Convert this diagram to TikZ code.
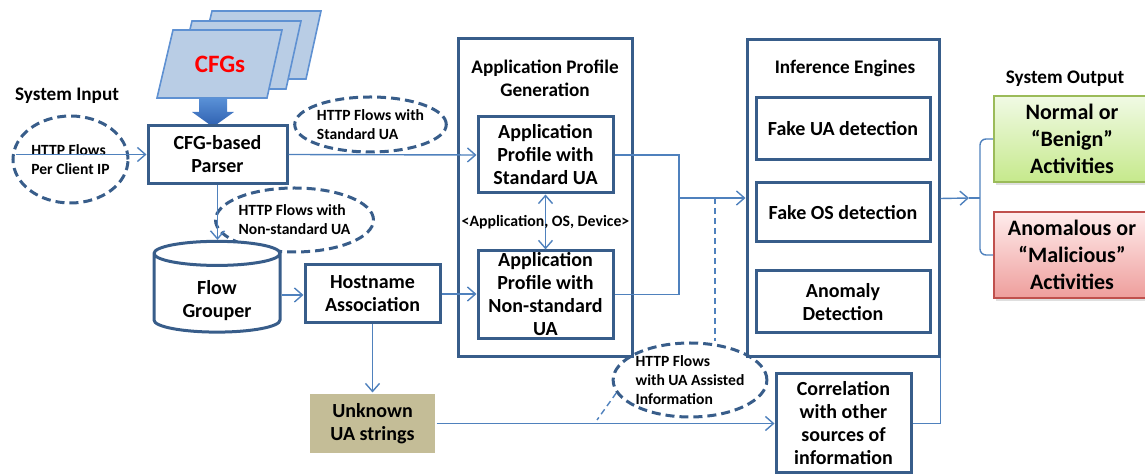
\documentclass[tikz,border=0pt]{standalone}
\usepackage{fontspec}
\setmainfont{Carlito}
\usetikzlibrary{arrows.meta,positioning,shapes.geometric,calc,shadows}
\definecolor{edgeBlue}{RGB}{56,93,138}
\definecolor{wireBlue}{RGB}{79,129,189}
\definecolor{sheetBlue}{RGB}{185,205,229}
\definecolor{sheetEdge}{RGB}{95,145,210}
\definecolor{arrowTop}{RGB}{90,145,215}
\definecolor{arrowBot}{RGB}{45,95,175}
\definecolor{uaTan}{RGB}{196,189,151}
\definecolor{okEdge}{RGB}{155,187,89}
\definecolor{okTop}{RGB}{240,250,228}
\definecolor{okBot}{RGB}{198,233,140}
\definecolor{badEdge}{RGB}{192,80,77}
\definecolor{badTop}{RGB}{255,236,236}
\definecolor{badBot}{RGB}{238,158,156}
\tikzset{
  procbox/.style={
    rectangle, draw=edgeBlue, line width=1.5pt, fill=white, align=center,
    inner sep=1pt, font=\fontsize{10}{11.5}\selectfont\bfseries},
  groupbox/.style={rectangle, draw=edgeBlue, line width=1.5pt},
  grouptitle/.style={align=center, font=\fontsize{9.6}{11.5}\selectfont\bfseries},
  storecyl/.style={
    cylinder, shape border rotate=90, aspect=0.33, draw=edgeBlue,
    line width=1.5pt, fill=white, align=center, inner sep=1pt,
    font=\fontsize{10}{11.5}\selectfont\bfseries},
  uabox/.style={procbox, draw=none, fill=uaTan},
  flowoval/.style={
    ellipse, draw=edgeBlue, line width=1.5pt, dash pattern=on 4.5pt off 2.5pt,
    align=left, inner sep=0pt, font=\fontsize{7.8}{9.5}\selectfont\bfseries},
  outbox/.style={
    rectangle, line width=0.8pt, align=center,
    font=\fontsize{11}{13.5}\selectfont\bfseries,
    drop shadow={opacity=0.25, shadow xshift=1pt, shadow yshift=-1.5pt}},
  okbox/.style={outbox, draw=okEdge, top color=okTop, bottom color=okBot},
  badbox/.style={outbox, draw=badEdge, top color=badTop, bottom color=badBot},
  cfgsheet/.style={fill=sheetBlue, draw=sheetEdge, line width=0.8pt},
  cfgtext/.style={text=red, font=\fontsize{12.5}{14}\selectfont\bfseries},
  blockarrow/.style={top color=arrowTop, bottom color=arrowBot, draw=none},
  linkline/.style={draw=wireBlue, line width=0.7pt},
  linkarrow/.style={linkline, -{Straight Barb[length=4pt,width=7pt]}},
  tapline/.style={draw=wireBlue, line width=0.7pt, dash pattern=on 3pt off 2pt}
}
\begin{document}
\begin{tikzpicture}[x=0.5pt, y=-0.5pt]
  \useasboundingbox (0,0) rectangle (1145,474);
  \clip (0,0) rectangle (1145,474);

  \foreach \dx/\dy in {39/19, 19/9, 0/0}
    \draw[cfgsheet] (157+\dx,98-\dy) -- ++(110,0) -- ++(15,-68) -- ++(-109,0) -- cycle;
  \node[cfgtext] (cfgs) at (220,64) {CFGs};
  \path[blockarrow] (199,98) -- (227,98) -- (227,112) -- (234,112) -- (213,127)
    -- (192,112) -- (199,112) -- cycle;

  \node[grouptitle] (sysin) at (67,96) {System Input};
  \node[flowoval, minimum width=57.5pt, minimum height=43.5pt] (inoval) at (70.5,159.5) {HTTP Flows\\Per Client IP};
  \node[procbox, minimum width=69.5pt, minimum height=29pt] (parser) at (217.5,154.5) {CFG-based\\Parser};
  \node[flowoval, minimum width=72.5pt, minimum height=27.5pt] (stdoval) at (370.5,124.5) {HTTP Flows with\\Standard UA};
  \node[flowoval, minimum width=72.5pt, minimum height=32pt] (nstdoval) at (294.5,220) {HTTP Flows with\\Non-standard UA};
  \node[storecyl, minimum width=63pt, minimum height=43pt] (grouper) at (217,295) {\rule{0pt}{13pt}Flow\\Grouper};
  \node[procbox, minimum width=67.5pt, minimum height=29pt] (hostname) at (372.5,294) {Hostname\\Association};
  \node[uabox, minimum width=62.5pt, minimum height=29.5pt] (unknown) at (372.5,423.5) {Unknown\\UA strings};

  \node[groupbox, minimum width=87pt, minimum height=159pt] (apg) at (545,198) {};
  \node[grouptitle] (apgtitle) at (545,78) {Application Profile\\Generation};
  \node[procbox, minimum width=67.5pt, minimum height=38pt] (stdprof) at (545.5,155) {Application\\Profile with\\Standard UA};
  \node[procbox, minimum width=67.5pt, minimum height=43.5pt] (nstdprof) at (545.5,294.5) {Application\\Profile with\\Non-standard\\UA};

  \node[groupbox, minimum width=96pt, minimum height=158.5pt] (ie) at (843,198.5) {};
  \node[grouptitle] (ietitle) at (845,68) {Inference Engines};
  \node[procbox, minimum width=87pt, minimum height=31pt] (fakeua) at (843,129) {Fake UA detection};
  \node[procbox, minimum width=87pt, minimum height=29.5pt] (fakeos) at (843,212.5) {Fake OS detection};
  \node[procbox, minimum width=87pt, minimum height=31pt] (anomaly) at (843,302) {Anomaly\\Detection};
  \node[procbox, minimum width=67.5pt, minimum height=49.5pt] (corr) at (843.5,423.5) {Correlation\\with other\\sources of\\information};
  \node[flowoval, minimum width=69pt, minimum height=37pt] (assist) at (690,380) {HTTP Flows\\with UA Assisted\\Information};

  \node[grouptitle] (sysout) at (1065,79) {System Output};
  \node[okbox, minimum width=78pt, minimum height=43pt] (normal) at (1072,139) {Normal or\\“Benign”\\Activities};
  \node[badbox, minimum width=78pt, minimum height=43pt] (anom) at (1072,255) {Anomalous or\\“Malicious”\\Activities};

  \coordinate (merge) at (679,198);
  \coordinate (tap) at (715,198);
  \coordinate (hint) at (597,420);
  \coordinate (outtip) at (969,198);
  \coordinate (brc) at (980,198);

  \draw[linkarrow, shorten <=2pt] (inoval.west |- parser.west) -- (parser.west);
  \draw[linkarrow] (parser.east) -- (stdprof.west);
  \draw[linkarrow] (parser.south) -- (parser.south |- grouper.north);
  \draw[linkarrow] (grouper.east) -- (grouper.east -| hostname.west);
  \draw[linkarrow] (hostname.east) -- (hostname.east -| nstdprof.west);
  \draw[linkarrow] (hostname.south) -- (unknown.north);
  \draw[linkarrow] (unknown.east) -- (unknown.east -| corr.west);
  \draw[linkline, {Straight Barb[length=4pt,width=7pt]}-{Straight Barb[length=4pt,width=7pt]}]
    (stdprof.south) -- (nstdprof.north)
    node[midway, font=\fontsize{7.9}{9.5}\selectfont\bfseries] (tuple) {<Application, OS, Device>};
  \draw[linkline] (stdprof.east) -| (merge) |- (nstdprof.east);
  \draw[linkarrow] (merge) -- (merge -| ie.west);
  \draw[tapline] (tap) -- (tap |- assist.north);
  \draw[tapline] (assist.190) -- (hint);
  \draw[linkline] (corr.east) -| (ie.south east);
  \draw[linkarrow] (ie.east) -- (outtip);
  \draw[linkline] (outtip) -- (brc);
  \draw[linkline, rounded corners=3pt] (normal.west) -| (brc) |- (anom.west);
\end{tikzpicture}
\end{document}
